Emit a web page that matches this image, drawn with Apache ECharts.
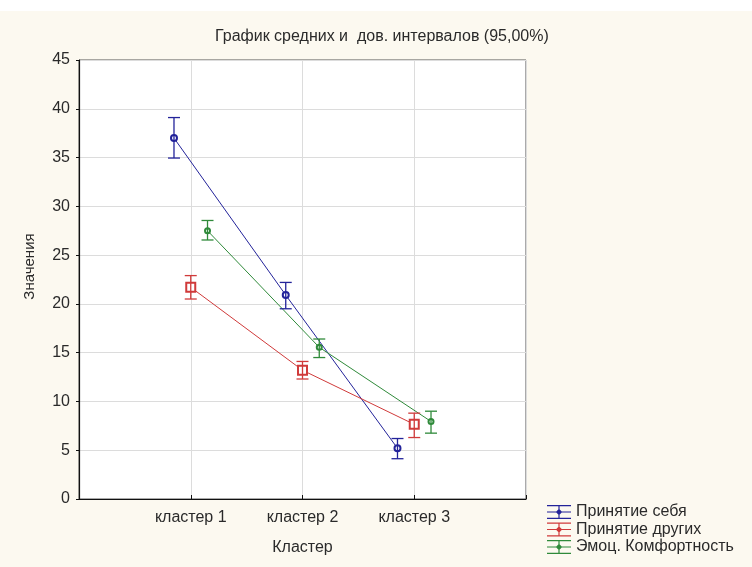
<!DOCTYPE html>
<html>
<head>
<meta charset="utf-8">
<script src="https://cdn.jsdelivr.net/npm/echarts@6/dist/echarts.min.js"></script>
<style>
html,body{margin:0;padding:0;background:#fff;}
#chart{width:752px;height:567px;}
</style>
</head>
<body>
<div id="chart"></div>
<script>
// ---- data ----
const categories = ['кластер 1', 'кластер 2', 'кластер 3'];
const seriesNames = ['Принятие себя', 'Принятие других', 'Эмоц. Комфортность'];
const selfMean = [37.0, 20.9, 5.2];
const selfLow = [34.95, 19.5, 4.13];
const selfHigh = [39.1, 22.2, 6.2];
const othersMean = [21.7, 13.2, 7.65];
const othersLow = [20.5, 12.3, 6.3];
const othersHigh = [22.9, 14.1, 8.8];
const comfortMean = [27.5, 15.55, 7.95];
const comfortLow = [26.55, 14.5, 6.75];
const comfortHigh = [28.55, 16.4, 9.0];
const yTicks = [0, 5, 10, 15, 20, 25, 30, 35, 40, 45];

// ---- presentation ----
const colors = ['#23239a', '#d03a3a', '#2f8a3a'];
const dodge = [-0.15, 0, 0.15];
const FONT = 'Liberation Sans';
const TXT = '#2a2a2a';
const means = [selfMean, othersMean, comfortMean];
const lows = [selfLow, othersLow, comfortLow];
const highs = [selfHigh, othersHigh, comfortHigh];
const symbols = ['emptyCircle', 'emptyRect', 'emptyCircle'];
const symbolSizes = [6, 9, 5];

const legendIcon = 'path://M0,0H24V1.2H0Z M0,6.4H24V7.6H0Z M0,12.8H24V14H0Z M11.4,0H12.6V14H11.4Z M12,3.8L15.2,7L12,10.2L8.8,7Z';

const series = [];
means.forEach((m, s) => {
  series.push({
    name: seriesNames[s],
    type: 'line',
    data: m.map((v, i) => [i + 1 + dodge[s], v]),
    symbol: symbols[s],
    symbolSize: symbolSizes[s],
    lineStyle: { width: 1, color: colors[s] },
    itemStyle: { color: colors[s], borderWidth: 1.2 },
    z: 3
  });
  series.push({
    name: seriesNames[s],
    type: 'custom',
    data: m.map((v, i) => [i + 1 + dodge[s], lows[s][i], highs[s][i]]),
    itemStyle: { color: colors[s] },
    encode: { x: 0, y: [1, 2] },
    renderItem: function (params, api) {
      const x = api.value(0);
      const pHi = api.coord([x, api.value(2)]);
      const pLo = api.coord([x, api.value(1)]);
      const w = 6;
      const st = { stroke: colors[s], lineWidth: 1.3 };
      return {
        type: 'group',
        children: [
          { type: 'line', shape: { x1: pHi[0], y1: pHi[1], x2: pLo[0], y2: pLo[1] }, style: st },
          { type: 'line', shape: { x1: pHi[0] - w, y1: pHi[1], x2: pHi[0] + w, y2: pHi[1] }, style: st },
          { type: 'line', shape: { x1: pLo[0] - w, y1: pLo[1], x2: pLo[0] + w, y2: pLo[1] }, style: st }
        ]
      };
    },
    z: 4
  });
});

const chart = echarts.init(document.getElementById('chart'), null, { renderer: 'canvas' });
chart.setOption({
  backgroundColor: '#fcf9f0',
  animation: false,
  color: colors,
  graphic: [{
    type: 'rect', left: 0, top: 0, shape: { width: 752, height: 11 },
    style: { fill: '#ffffff' }, silent: true
  }],
  title: {
    text: 'График средних и  дов. интервалов (95,00%)',
    left: 210, top: 24,
    textStyle: { fontFamily: FONT, fontSize: 16, fontWeight: 'normal', color: TXT }
  },
  legend: {
    data: seriesNames.map(n => ({ name: n, icon: legendIcon })),
    orient: 'vertical',
    left: 542, top: 499,
    itemWidth: 24, itemHeight: 14, itemGap: 1.5,
    textStyle: { fontFamily: FONT, fontSize: 16, color: TXT }
  },
  grid: {
    left: 79, right: 226, top: 60, bottom: 68,
    show: true, backgroundColor: '#ffffff', borderColor: '#555', borderWidth: 1
  },
  xAxis: {
    type: 'value', min: 0, max: 4, interval: 1,
    name: 'Кластер', nameLocation: 'middle', nameGap: 41,
    nameTextStyle: { fontFamily: FONT, fontSize: 16, color: TXT },
    axisLine: { show: true, lineStyle: { color: '#111', width: 1.2 } },
    axisTick: { show: true, inside: true, length: 4, lineStyle: { color: '#111' } },
    axisLabel: {
      fontFamily: FONT, fontSize: 16, color: TXT, margin: 11,
      formatter: v => categories[v - 1] || ''
    },
    splitLine: { show: true, lineStyle: { color: '#dcdcdc', width: 1 } }
  },
  yAxis: {
    type: 'value', min: yTicks[0], max: yTicks[yTicks.length - 1], interval: 5,
    name: 'Значения', nameLocation: 'middle', nameGap: 42, nameRotate: 90,
    nameTextStyle: { fontFamily: FONT, fontSize: 15, color: TXT, padding: [0, 0, 0, 26] },
    axisLine: { show: true, lineStyle: { color: '#111', width: 1.2 } },
    axisTick: { show: true, length: 3, lineStyle: { color: '#111' } },
    axisLabel: { fontFamily: FONT, fontSize: 16, color: TXT, margin: 9 },
    splitLine: { show: true, lineStyle: { color: '#dcdcdc', width: 1 } }
  },
  series: series
});
</script>
</body>
</html>
